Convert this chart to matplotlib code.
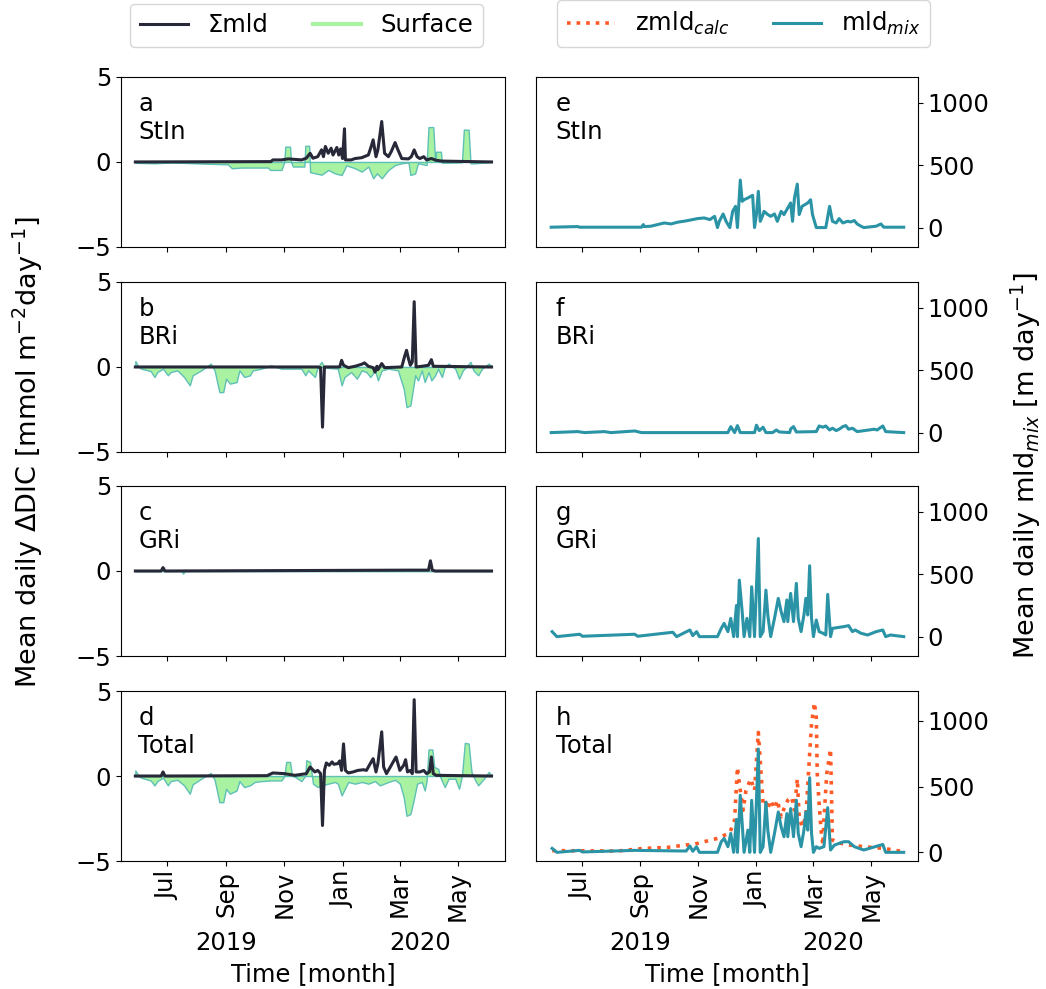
import numpy as np
import matplotlib
matplotlib.use('Agg')
import matplotlib.pyplot as plt
import matplotlib.dates as mdates
from matplotlib.lines import Line2D

# day offsets are counted from this date
START = np.datetime64('2019-06-01')

# a - StIn
stin_mld_days = [-3, 139, 141, 150, 157, 171, 176, 180, 183, 188, 192, 194, 196, 199, 202, 204, 208, 210, 212, 214,
                 216, 217, 223, 227, 234, 241, 244, 246, 249, 251, 255, 258, 262, 265, 269, 272, 276, 283, 286, 289,
                 292, 295, 299, 302, 307, 312, 318, 370]
stin_mld = [0, 0.02, 0.12, 0.12, 0.18, 0.12, 0.22, 0.51, 0.22, 0.31, 0.71, 0.31, 0.91, 0.51, 0.81, 0.41, 0.85, 0.41,
            0.77, 0.2, 1.95, 0.12, 0.12, 0.2, 0.25, 0.41, 0.91, 1.3, 0.31, 0.71, 2.38, 0.51, 0.31, 0.61, 1.14, 0.71,
            0.2, 0.18, 0.31, 0.71, 0.31, 0.2, 0.31, 0.12, 0.2, 0.1, 0.05, 0]
stin_surf_days = [-3, 17, 35, 70, 94, 98, 108, 136, 138, 150, 153, 154, 159, 160, 162, 174, 175, 179, 180, 192, 199,
                  206, 213, 218, 227, 234, 241, 246, 250, 255, 262, 269, 276, 283, 285, 290, 293, 302, 304, 309, 311,
                  312, 317, 318, 339, 341, 346, 348, 353, 370]
stin_surf = [-0.05, -0.08, -0.03, -0.1, -0.14, -0.37, -0.33, -0.33, -0.47, -0.47, 0, 0.9, 0.9, 0, -0.27, -0.27, 0.95,
             0.95, -0.6, -0.75, -0.47, -0.67, -0.77, -0.2, -0.37, -0.57, -0.27, -0.96, -0.67, -0.96, -0.47, -0.18,
             -0.08, -0.02, -0.77, -0.67, -0.08, -0.18, 2.05, 2.05, 0, 0.6, 0.6, -0.05, -0.02, 1.9, 1.9, -0.08, -0.08, 0]

# b - BRi
bri_mld_days = [-3, 188, 191, 193, 195, 211, 213, 215, 220, 227, 234, 237, 241, 246, 248, 250, 251, 255, 258, 276,
                279, 281, 283, 285, 287, 289, 291, 297, 304, 307, 309, 370]
bri_mld = [0, 0, -0.04, -3.54, 0, 0, 0.39, 0.1, -0.04, 0.04, 0.16, 0.24, 0.04, -0.04, -0.3, 0.04, -0.16, 0.2, -0.04,
           0, 0.63, 0.98, 0.49, 0.1, 0.3, 3.84, 0, 0.04, 0.1, 0.43, 0.04, 0]
bri_surf_days = [-3, 0, 3, 13, 17, 20, 26, 31, 34, 41, 48, 54, 57, 66, 76, 80, 85, 89, 92, 96, 103, 106, 111, 117, 120,
                 129, 139, 150, 171, 175, 178, 185, 188, 192, 195, 209, 213, 216, 223, 229, 234, 239, 243, 248, 251,
                 255, 262, 272, 278, 281, 285, 287, 290, 293, 297, 300, 304, 307, 311, 314, 318, 321, 325, 332, 336,
                 340, 348, 351, 356, 360, 367, 370]
bri_surf = [0.35, 0.04, -0.1, -0.24, -0.59, -0.3, -0.1, -0.49, -0.3, -0.2, -0.59, -1.08, -0.49, -0.2, 0.2, -0.2, -1.48,
            -1.48, -0.69, -0.98, -0.89, -0.2, -0.59, -0.49, -0.2, -0.1, 0.1, -0.1, -0.1, -0.49, -0.2, -0.59, 0, 0.3,
            -0.04, -0.1, -1.08, -0.59, -0.3, -0.69, -0.2, -0.3, -0.59, -0.2, -0.79, -0.2, -0.1, -0.2, -1.28, -2.36,
            -2.26, -1.57, -0.49, -0.79, -0.2, -0.89, -0.3, -0.79, -0.49, -0.1, -0.59, 0, 0.2, -0.1, -0.69, -0.2,
            0.3, -0.2, -0.49, -0.1, 0.2, 0.04]

# c - GRi
gri_mld_days = [-3, 24, 26, 28, 283, 297, 304, 306, 308, 311, 370]
gri_mld = [0, 0, 0.2, 0, 0.05, 0.05, 0.05, 0.6, 0.05, 0, 0]
gri_surf_days = [-3, 45, 47, 49, 370]
gri_surf = [0, 0, -0.15, 0, 0]

# d - Total
tot_mld_days = [-3, 24, 26, 28, 135, 141, 153, 164, 176, 180, 185, 188, 191, 193, 195, 197, 200, 203, 205, 209, 211,
                213, 215, 217, 220, 225, 230, 236, 239, 244, 246, 249, 251, 255, 257, 260, 264, 267, 270, 272, 274,
                278, 280, 282, 285, 287, 289, 291, 295, 299, 302, 305, 307, 309, 312, 370]
tot_mld = [0, 0, 0.24, 0, 0.02, 0.18, 0.14, 0.04, 0.14, 0.53, 0.24, 0.33, 0.14, -2.91, 0.33, 0.77, 0.63, 0.83, 0.69,
           0.73, 0.89, 0.33, 1.89, 0.33, 0.18, 0.24, 0.33, 0.37, 0.33, 0.83, 1.02, 0.24, 0.73, 2.6, 0.53, 0.14, 0.53,
           0.83, 1.12, 0.73, 0.33, 0.63, 0.96, 0.24, 0.33, 0.14, 4.49, 0.24, 0.24, 0.33, 0.14, 0.24, 1.12, 0.14,
           0.04, 0]
tot_surf_days = [-3, 0, 3, 13, 17, 20, 26, 31, 34, 41, 48, 54, 57, 66, 76, 80, 85, 89, 92, 96, 103, 106, 111, 117, 122,
                 129, 139, 150, 153, 155, 159, 161, 171, 175, 176, 180, 183, 188, 192, 199, 206, 209, 213, 220, 227,
                 234, 241, 248, 253, 262, 269, 274, 278, 281, 285, 288, 292, 297, 300, 302, 304, 308, 310, 314, 317,
                 321, 325, 332, 336, 339, 342, 346, 349, 353, 356, 362, 367, 370]
tot_surf = [0.33, 0.04, -0.1, -0.26, -0.55, -0.3, -0.1, -0.55, -0.3, -0.22, -0.55, -1.04, -0.49, -0.16, 0.18, -0.22,
            -1.54, -1.54, -0.75, -1.04, -0.85, -0.3, -0.65, -0.55, -0.35, -0.3, -0.26, -0.26, 0, 0.83, 0.83, 0.06,
            -0.3, 0.04, 0.93, 0.83, -0.45, -0.65, -0.55, -0.45, -0.35, -0.45, -1.14, -0.35, -0.45, -0.35, -0.45,
            -0.3, -0.55, -0.35, -0.22, -0.45, -1.24, -2.34, -2.24, -1.54, -0.45, -0.35, -0.85, -0.3, 1.56, 1.56,
            0.53, 0.43, -0.16, -0.65, -0.16, -0.16, -0.75, 0, 1.95, 1.91, 0.24, -0.26, -0.55, -0.16, 0.24, 0.04]

# e-h: mld_mix [m day-1]
stin_mix_days = [-2, 26, 28, 93, 95, 96, 103, 110, 117, 124, 131, 138, 145, 152, 159, 165, 170, 173, 175, 179, 182,
                 186, 189, 192, 194, 197, 199, 201, 205, 208, 210, 212, 214, 216, 218, 221, 222, 226, 229, 233, 236,
                 240, 243, 247, 250, 252, 254, 257, 259, 262, 268, 271, 273, 277, 287, 291, 294, 298, 301, 305, 310,
                 313, 317, 320, 324, 327, 340, 345, 348, 369]
stin_mix = [3, 8, 3, 3, 24, 8, 11, 24, 37, 29, 43, 51, 61, 72, 77, 64, 90, 0, 51, 109, 51, 0, 130, 170, 0, 380, 210,
            223, 237, 250, 258, 0, 104, 290, 50, 104, 130, 104, 90, 109, 50, 130, 104, 157, 197, 50, 237, 348, 104,
            170, 197, 223, 104, 0, 0, 170, 50, 37, 72, 37, 51, 45, 56, 29, 11, 0, 11, 29, 3, 3]

bri_mix_days = [-2, 26, 33, 54, 61, 86, 93, 184, 187, 191, 194, 197, 212, 214, 217, 221, 224, 231, 235, 238, 249, 250,
                253, 256, 277, 280, 284, 287, 291, 294, 298, 301, 305, 308, 311, 315, 320, 338, 341, 347, 350, 369]
bri_mix = [0, 8, 0, 8, 0, 13, 0, 0, 48, 0, 56, 0, 0, 59, 16, 43, 0, 0, 21, 5, 0, 29, 48, 5, 8, 53, 43, 53, 21, 35, 16,
           27, 48, 56, 27, 35, 8, 27, 21, 53, 8, 0]

gri_mix_days = [-1, 4, 28, 31, 86, 89, 126, 130, 144, 147, 151, 154, 173, 177, 180, 184, 187, 190, 193, 194, 196, 199,
                201, 204, 207, 209, 212, 216, 218, 221, 224, 226, 229, 233, 237, 240, 243, 246, 247, 250, 253, 256,
                258, 261, 264, 266, 268, 270, 272, 274, 277, 280, 284, 287, 289, 292, 294, 299, 306, 311, 315, 318,
                324, 331, 340, 347, 350, 355, 369]
gri_mix = [40, 0, 19, 3, 19, 3, 35, 0, 53, 8, 40, 0, 0, 66, 106, 40, 146, 0, 250, 0, 452, 200, 0, 146, 0, 399, 0, 785,
           0, 40, 372, 173, 0, 146, 306, 200, 120, 293, 120, 346, 120, 426, 146, 40, 173, 306, 173, 567, 146, 0, 133,
           40, 27, 13, 338, 0, 66, 72, 80, 88, 40, 53, 27, 13, 40, 53, 0, 13, 0]

tot_mix_days = [-1, 4, 28, 31, 86, 140, 144, 147, 151, 154, 173, 177, 180, 184, 187, 190, 193, 194, 197, 199, 201, 205,
                207, 209, 212, 216, 218, 221, 224, 226, 229, 233, 237, 240, 243, 246, 247, 250, 253, 256, 258, 261,
                264, 266, 268, 270, 272, 274, 277, 280, 285, 289, 292, 296, 306, 311, 317, 327, 347, 350, 369]
tot_mix = [30, 0, 15, 3, 15, 10, 48, 8, 43, 0, 0, 81, 106, 43, 144, 0, 250, 0, 434, 219, 0, 169, 0, 396, 0, 786, 0, 43,
           382, 169, 0, 144, 307, 194, 119, 295, 119, 333, 119, 396, 144, 43, 169, 307, 169, 567, 144, 0, 43, 30, 43,
           340, 18, 55, 81, 81, 43, 18, 60, 0, 0]

calc_days = [-1, 68, 96, 121, 131, 149, 159, 173, 186, 191, 194, 197, 200, 203, 208, 212, 216, 218, 221, 223, 226, 229,
             233, 236, 240, 243, 247, 251, 254, 257, 259, 262, 266, 270, 272, 275, 277, 278, 280, 282, 284, 285, 288,
             292, 294, 299, 313, 327, 348, 369]
tot_calc = [13, 10, 30, 38, 48, 63, 81, 106, 149, 245, 647, 471, 320, 471, 559, 471, 912, 698, 370, 396, 333, 396, 333,
            396, 270, 333, 396, 421, 320, 559, 270, 194, 270, 748, 975, 1139, 1025, 597, 370, 169, 55, 245, 597, 786,
            93, 73, 55, 43, 30, 5]

sites = ['StIn', 'BRi', 'GRi', 'Total']
left_letters = ['a', 'b', 'c', 'd']
right_letters = ['e', 'f', 'g', 'h']

C_MLD = '#272838'
C_SURF = '#a8f2a2'
C_EDGE = '#5fc0b6'
C_MIX = '#2a94a6'
C_CALC = '#ff5a26'
FS = 17.5


def to_dates(days):
    return START + np.array(days, dtype='timedelta64[D]')


def style_time_axis(ax, bottom):
    ax.xaxis.set_major_locator(mdates.MonthLocator(bymonth=[7, 9, 11, 1, 3, 5]))
    ax.xaxis.set_major_formatter(mdates.DateFormatter('%b'))
    ax.set_xlim(START + np.timedelta64(-18, 'D'), START + np.timedelta64(384, 'D'))
    if bottom:
        ax.tick_params(axis='x', labelrotation=90)
        tr = ax.get_xaxis_transform()
        ax.text(np.datetime64('2019-09-01'), -0.48, '2019', transform=tr, ha='center', va='center', fontsize=FS)
        ax.text(np.datetime64('2020-03-22'), -0.48, '2020', transform=tr, ha='center', va='center', fontsize=FS)
        ax.set_xlabel('Time [month]', fontsize=FS, labelpad=30)
    else:
        ax.tick_params(axis='x', labelbottom=False)


def main():
    plt.rcParams['font.size'] = FS
    fig = plt.figure(figsize=(10.46, 9.89), dpi=100)

    bottoms = [0.7503, 0.5430, 0.3367, 0.1294]
    h = 0.1719
    left_axes, right_axes = [], []
    for b in bottoms:
        left_axes.append(fig.add_axes([0.1157, b, 0.367, h]))
        right_axes.append(fig.add_axes([0.5124, b, 0.3652, h]))

    mld_data = [(stin_mld_days, stin_mld), (bri_mld_days, bri_mld), (gri_mld_days, gri_mld), (tot_mld_days, tot_mld)]
    surf_data = [(stin_surf_days, stin_surf), (bri_surf_days, bri_surf), (gri_surf_days, gri_surf),
                 (tot_surf_days, tot_surf)]
    mix_data = [(stin_mix_days, stin_mix), (bri_mix_days, bri_mix), (gri_mix_days, gri_mix), (tot_mix_days, tot_mix)]

    for i, ax in enumerate(left_axes):
        sd, sv = surf_data[i]
        ax.fill_between(to_dates(sd), 0, sv, facecolor=C_SURF, edgecolor=C_EDGE, linewidth=1.0)
        md, mv = mld_data[i]
        ax.plot(to_dates(md), mv, color=C_MLD, lw=2.2)
        ax.set_ylim(-5, 5)
        ax.set_yticks([-5, 0, 5])
        ax.text(0.045, 0.91, f'{left_letters[i]}\n{sites[i]}', transform=ax.transAxes, va='top', ha='left',
                fontsize=FS)
        style_time_axis(ax, i == 3)

    for i, ax in enumerate(right_axes):
        dd, vv = mix_data[i]
        if i == 3:
            ax.plot(to_dates(calc_days), tot_calc, color=C_CALC, lw=2.6, ls=':')
        ax.plot(to_dates(dd), vv, color=C_MIX, lw=2.2)
        ax.yaxis.tick_right()
        ax.set_yticks([0, 500, 1000])
        if i == 3:
            ax.set_ylim(-66, 1227)
        else:
            ax.set_ylim(-155, 1205)
        ax.text(0.052, 0.91, f'{right_letters[i]}\n{sites[i]}', transform=ax.transAxes, va='top', ha='left',
                fontsize=FS)
        style_time_axis(ax, i == 3)

    fig.text(0.027, 0.543, r'Mean daily $\Delta$DIC [mmol m$^{-2}$day$^{-1}$]', rotation=90,
             ha='center', va='center', fontsize=19.5)
    fig.text(0.981, 0.529, r'Mean daily mld$_{mix}$ [m day$^{-1}$]', rotation=90,
             ha='center', va='center', fontsize=19.5)

    h_left = [Line2D([], [], color=C_MLD, lw=2.2), Line2D([], [], color=C_SURF, lw=3)]
    fig.legend(h_left, ['Σmld', 'Surface'], loc='lower left', ncol=2, mode='expand',
               bbox_to_anchor=(0.1243, 0.9525, 0.3375, 0.0394), fontsize=FS, borderaxespad=0)
    h_right = [Line2D([], [], color=C_CALC, lw=2.6, ls=':'), Line2D([], [], color=C_MIX, lw=2.2)]
    fig.legend(h_right, ['zmld$_{calc}$', 'mld$_{mix}$'], loc='lower left', ncol=2, mode='expand',
               bbox_to_anchor=(0.5325, 0.9525, 0.3566, 0.0394), fontsize=FS, borderaxespad=0)

    fig.savefig('out.png', dpi=100)
    plt.close(fig)


if __name__ == '__main__':
    main()
